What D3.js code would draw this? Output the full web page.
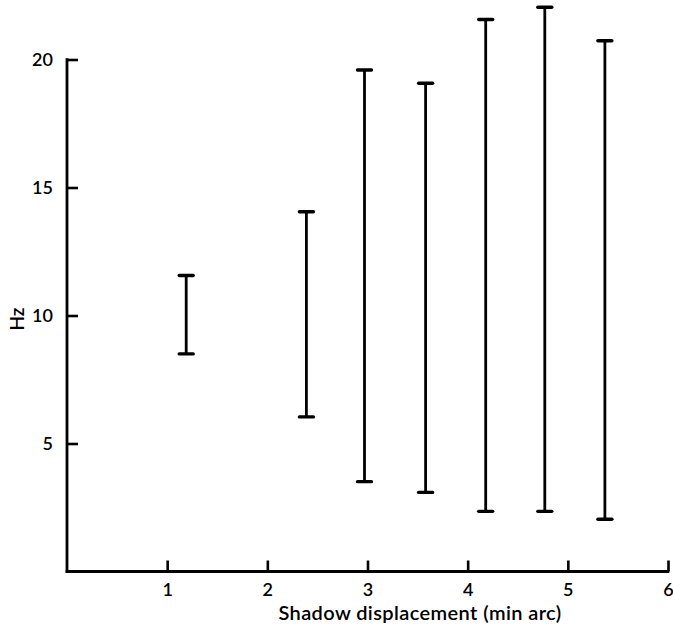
<!DOCTYPE html>
<html><head><meta charset="utf-8">
<script src="https://cdn.jsdelivr.net/npm/d3@7"></script>
<style>body{margin:0;background:#fff;} svg{display:block;} text{font-family:Lato, "Open Sans", sans-serif;font-weight:600;fill:#000;}</style>
</head><body>
<svg id="c" width="673" height="627"></svg>
<script>
const xPos = [1.19, 2.39, 2.97, 3.58, 4.18, 4.77, 5.37];
const lowHz = [8.50, 6.04, 3.51, 3.09, 2.35, 2.35, 2.04];
const highHz = [11.56, 14.05, 19.59, 19.07, 21.56, 22.04, 20.73];
const xTicks = [1, 2, 3, 4, 5, 6];
const yTicks = [5, 10, 15, 20];
const xTitle = "Shadow displacement (min arc)";
const yTitle = "Hz";

const svg = d3.select("#c");
const x = d3.scaleLinear().domain([0, 6]).range([67, 668]);
const y = d3.scaleLinear().domain([0, 20]).range([571.5, 59.5]);

// x axis
const xa = svg.append("g").attr("transform", `translate(0,${y(0)})`)
  .call(d3.axisBottom(x).tickValues(xTicks).tickFormat(d3.format("d")).tickSize(-11).tickPadding(12).tickSizeOuter(0));
xa.select(".domain").remove();
xa.selectAll(".tick line").attr("stroke", "#000").attr("stroke-width", 2.6);
xa.selectAll(".tick text").attr("font-size", 18);
svg.append("line").attr("x1", x(0) - 1.3).attr("x2", x(6) + 1.3).attr("y1", y(0)).attr("y2", y(0))
  .attr("stroke", "#000").attr("stroke-width", 2.8);

// y axis
const ya = svg.append("g").attr("transform", `translate(${x(0)},0)`)
  .call(d3.axisLeft(y).tickValues(yTicks).tickFormat(d3.format("d")).tickSize(-11).tickPadding(14).tickSizeOuter(0));
ya.select(".domain").remove();
ya.selectAll(".tick line").attr("stroke", "#000").attr("stroke-width", 2.6);
ya.selectAll(".tick text").attr("font-size", 18);
svg.append("line").attr("x1", x(0)).attr("x2", x(0)).attr("y1", y(20) - 1.3).attr("y2", y(0) + 1.3)
  .attr("stroke", "#000").attr("stroke-width", 2.8);

svg.append("text").attr("x", 420).attr("y", 620).attr("text-anchor", "middle")
  .attr("font-size", 20).attr("letter-spacing", 0.4).text(xTitle);
svg.append("text").attr("transform", `translate(24,319) rotate(-90)`).attr("text-anchor", "middle")
  .attr("font-size", 19).text(yTitle);

// range bars
const data = xPos.map((d, i) => ({x: d, lo: lowHz[i], hi: highHz[i]}));
const g = svg.append("g").selectAll("g").data(data).join("g");
g.append("line").attr("x1", d => x(d.x)).attr("x2", d => x(d.x))
  .attr("y1", d => y(d.lo)).attr("y2", d => y(d.hi)).attr("stroke", "#000").attr("stroke-width", 2.8);
g.selectAll(".cap").data(d => [[d.x, d.lo], [d.x, d.hi]]).join("line").attr("class", "cap")
  .attr("x1", d => x(d[0]) - 7).attr("x2", d => x(d[0]) + 7)
  .attr("y1", d => y(d[1])).attr("y2", d => y(d[1]))
  .attr("stroke", "#000").attr("stroke-width", 3.4).attr("stroke-linecap", "round");
</script>
</body></html>
